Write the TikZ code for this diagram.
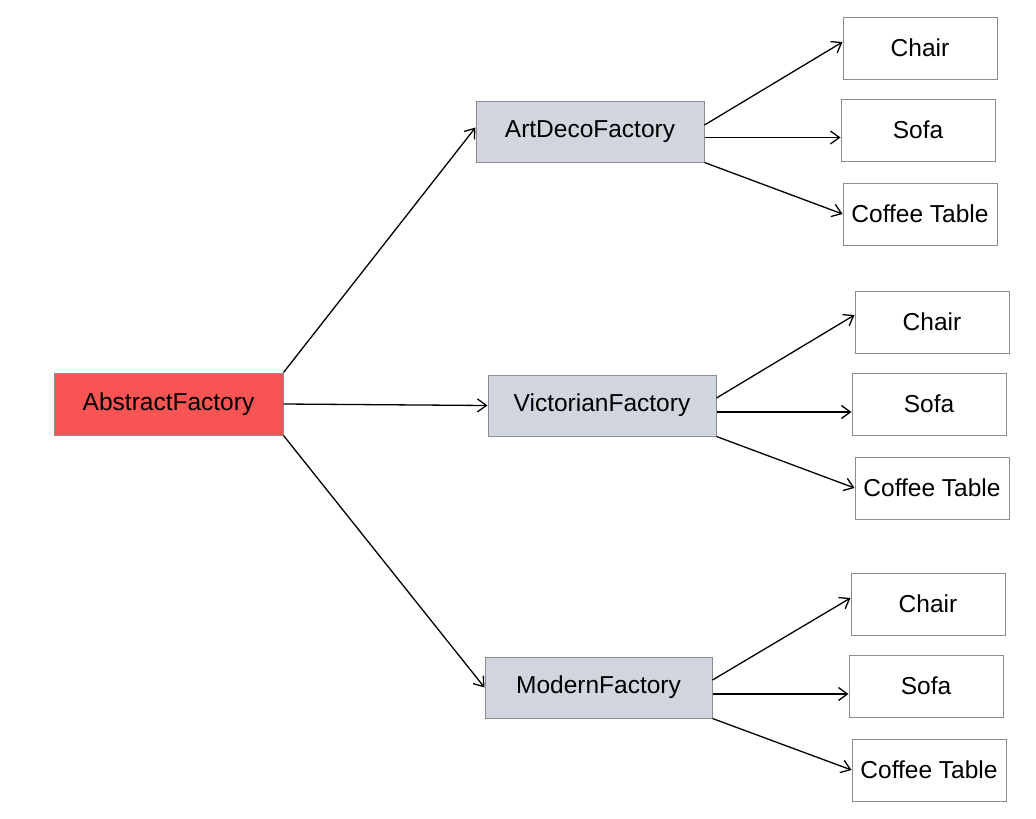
\documentclass[tikz,border=0pt]{standalone}
\usepackage{fontspec}
\setmainfont{Liberation Sans}
\usetikzlibrary{arrows.meta}
\definecolor{afred}{RGB}{248,84,84}
\definecolor{facgray}{RGB}{208,213,222}
\definecolor{bordergray}{RGB}{140,140,140}
\begin{document}
\begin{tikzpicture}[x=1pt,y=-1pt,
  base/.style={draw=bordergray,line width=1pt,inner sep=0pt,font=\fontsize{24.5}{28}\selectfont},
  rootbox/.style={base,fill=afred,minimum width=229pt,minimum height=62pt},
  facbox/.style={base,fill=facgray,minimum width=228pt,minimum height=61pt},
  prodbox/.style={base,fill=white,minimum width=154pt,minimum height=62pt},
  conn/.style={draw=black,line width=1.3pt,-{Straight Barb[length=9pt,width=13pt,line width=1.3pt]}}
]
\useasboundingbox (0,0) rectangle (1036,819);
\node[rootbox] (af) at (168.5,404) {AbstractFactory};
\node[facbox] (ad) at (590,131.5) {ArtDecoFactory};
\node[facbox] (vf) at (602,405.5) {VictorianFactory};
\node[facbox,minimum width=227pt] (mf) at (598.5,687.5) {ModernFactory};

\node[prodbox] (c1) at (920,48) {Chair};
\node[prodbox] (s1) at (918,130) {Sofa};
\node[prodbox] (t1) at (920,214) {Coffee Table};
\node[prodbox] (c2) at (932,322) {Chair};
\node[prodbox] (s2) at (929,404) {Sofa};
\node[prodbox] (t2) at (932,488) {Coffee Table};
\node[prodbox] (c3) at (928,604) {Chair};
\node[prodbox] (s3) at (926,686) {Sofa};
\node[prodbox] (t3) at (929,770) {Coffee Table};

\draw[conn] (af.north east) -- ([yshift=4pt]ad.west);
\draw[conn] (af.east) -- (vf.west);
\draw[conn] (af.south east) -- (mf.west);

\draw[conn] ([yshift=6.5pt]ad.east) -- ([yshift=6pt]c1.west);
\draw[conn] ([yshift=-6pt]ad.east) -- ([yshift=-7.5pt]s1.west);
\draw[conn] (ad.south east) -- (t1.west);

\draw[conn] ([yshift=7.5pt]vf.east) -- ([yshift=7pt]c2.west);
\draw[conn] ([yshift=-6.5pt]vf.east) -- ([yshift=-8pt]s2.west);
\draw[conn] (vf.south east) -- (t2.west);

\draw[conn] ([yshift=7.5pt]mf.east) -- ([yshift=6pt]c3.west);
\draw[conn] ([yshift=-6.5pt]mf.east) -- ([yshift=-8pt]s3.west);
\draw[conn] (mf.south east) -- (t3.west);
\end{tikzpicture}
\end{document}
